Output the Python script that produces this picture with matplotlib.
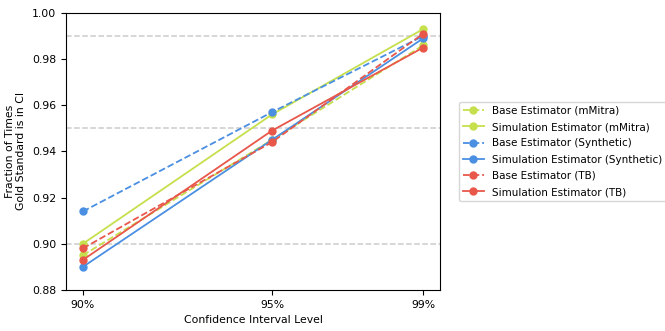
import matplotlib
matplotlib.use("Agg")
import matplotlib.pyplot as plt

levels = [0.90, 0.95, 0.99]
level_labels = ["90%", "95%", "99%"]

base_mmitra = [0.895, 0.945, 0.986]
sim_mmitra = [0.900, 0.956, 0.993]
base_synthetic = [0.914, 0.957, 0.990]
sim_synthetic = [0.890, 0.945, 0.989]
base_tb = [0.898, 0.944, 0.991]
sim_tb = [0.893, 0.949, 0.985]

green = "#c5e04c"
blue = "#4a8fe2"
red = "#e8574a"

fs = 7.8
legend_fs = 7.5

fig = plt.figure(figsize=(6.65, 3.31), dpi=100)
ax = fig.add_axes([0.099, 0.124, 0.563, 0.837])

for lv in levels:
    ax.axhline(lv, color="#cccccc", linestyle="--", linewidth=1.1, zorder=0)

series = [
    ("Base Estimator (mMitra)", base_mmitra, green, "--"),
    ("Simulation Estimator (mMitra)", sim_mmitra, green, "-"),
    ("Base Estimator (Synthetic)", base_synthetic, blue, "--"),
    ("Simulation Estimator (Synthetic)", sim_synthetic, blue, "-"),
    ("Base Estimator (TB)", base_tb, red, "--"),
    ("Simulation Estimator (TB)", sim_tb, red, "-"),
]
for label, vals, color, ls in series:
    ax.plot(levels, vals, color=color, linestyle=ls, marker="o",
            markersize=5, linewidth=1.3, label=label)

ax.set_xticks(levels)
ax.set_xticklabels(level_labels, fontsize=fs)
ax.set_ylim(0.88, 1.00)
ax.tick_params(axis="y", labelsize=fs)
ax.set_xlabel("Confidence Interval Level", fontsize=fs)
ax.set_ylabel("Fraction of Times\nGold Standard is in CI", fontsize=fs)
ax.legend(loc="center left", bbox_to_anchor=(1.035, 0.5), fontsize=legend_fs,
          labelspacing=0.6)

fig.savefig("out.png", dpi=100)
